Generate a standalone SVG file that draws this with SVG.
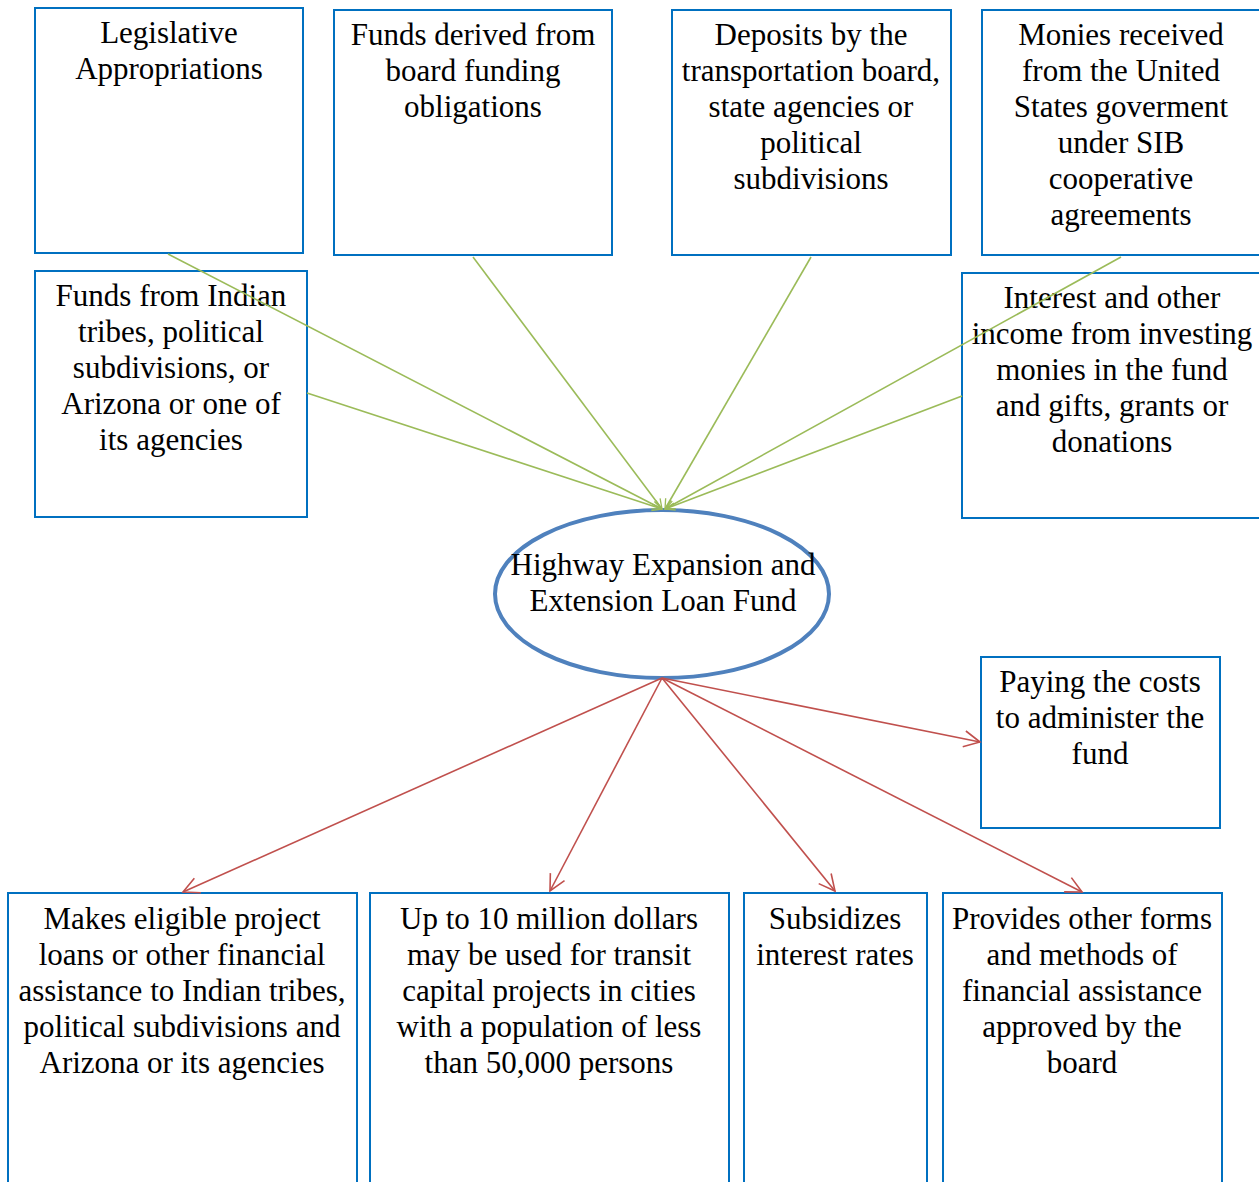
<svg xmlns="http://www.w3.org/2000/svg" width="1259" height="1182" viewBox="0 0 1259 1182">
<defs>
<style>
.box{fill:#fff;stroke:#0070C0;stroke-width:2}
.t{font-family:"Liberation Serif","Times New Roman",serif;font-size:31px;fill:#000;text-anchor:middle}
.g{stroke:#9BBB59;stroke-width:1.6;fill:none;marker-end:url(#ag)}
.r{stroke:#C0504D;stroke-width:1.6;fill:none;marker-end:url(#ar)}
</style>
<marker id="ag" viewBox="0 0 20 20" refX="18" refY="10" markerWidth="12" markerHeight="12" markerUnits="userSpaceOnUse" orient="auto"><path d="M2 2 L18 10 L2 18" fill="none" stroke="#9BBB59" stroke-width="2.2"/></marker>
<marker id="ar" viewBox="0 0 20 20" refX="18" refY="10" markerWidth="20" markerHeight="20" markerUnits="userSpaceOnUse" orient="auto"><path d="M2 2 L18 10 L2 18" fill="none" stroke="#C0504D" stroke-width="1.6"/></marker>
</defs>
<rect width="1259" height="1182" fill="#fff"/>
<g id="n1"><rect class="box" x="35" y="8" width="268" height="245"/><text class="t" x="169" y="43">Legislative</text><text class="t" x="169" y="79">Appropriations</text></g>
<g id="n2"><rect class="box" x="334" y="10" width="278" height="245"/><text class="t" x="473" y="45">Funds derived from</text><text class="t" x="473" y="81">board funding</text><text class="t" x="473" y="117">obligations</text></g>
<g id="n3"><rect class="box" x="672" y="10" width="279" height="245"/><text class="t" x="811" y="45">Deposits by the</text><text class="t" x="811" y="81">transportation board,</text><text class="t" x="811" y="117">state agencies or</text><text class="t" x="811" y="153">political</text><text class="t" x="811" y="189">subdivisions</text></g>
<g id="n4"><rect class="box" x="982" y="10" width="290" height="245"/><text class="t" x="1121" y="45">Monies received</text><text class="t" x="1121" y="81">from the United</text><text class="t" x="1121" y="117">States goverment</text><text class="t" x="1121" y="153">under SIB</text><text class="t" x="1121" y="189">cooperative</text><text class="t" x="1121" y="225">agreements</text></g>
<g id="n5"><rect class="box" x="35" y="271" width="272" height="246"/><text class="t" x="171" y="306">Funds from Indian</text><text class="t" x="171" y="342">tribes, political</text><text class="t" x="171" y="378">subdivisions, or</text><text class="t" x="171" y="414">Arizona or one of</text><text class="t" x="171" y="450">its agencies</text></g>
<g id="n6"><rect class="box" x="962" y="273" width="310" height="245"/><text class="t" x="1112" y="308">Interest and other</text><text class="t" x="1112" y="344">income from investing</text><text class="t" x="1112" y="380">monies in the fund</text><text class="t" x="1112" y="416">and gifts, grants or</text><text class="t" x="1112" y="452">donations</text></g>
<g id="fund"><ellipse cx="662" cy="594" rx="167" ry="84" fill="#fff" stroke="#4F81BD" stroke-width="4"/><text class="t" x="663" y="575">Highway Expansion and</text><text class="t" x="663" y="611">Extension Loan Fund</text></g>
<g id="n7"><rect class="box" x="981" y="657" width="239" height="171"/><text class="t" x="1100" y="692">Paying the costs</text><text class="t" x="1100" y="728">to administer the</text><text class="t" x="1100" y="764">fund</text></g>
<g id="n8"><rect class="box" x="8" y="893" width="349" height="300"/><text class="t" x="182" y="929">Makes eligible project</text><text class="t" x="182" y="965">loans or other financial</text><text class="t" x="182" y="1001">assistance to Indian tribes,</text><text class="t" x="182" y="1037">political subdivisions and</text><text class="t" x="182" y="1073">Arizona or its agencies</text></g>
<g id="n9"><rect class="box" x="370" y="893" width="359" height="300"/><text class="t" x="549" y="929">Up to 10 million dollars</text><text class="t" x="549" y="965">may be used for transit</text><text class="t" x="549" y="1001">capital projects in cities</text><text class="t" x="549" y="1037">with a population of less</text><text class="t" x="549" y="1073">than 50,000 persons</text></g>
<g id="n10"><rect class="box" x="744" y="893" width="183" height="300"/><text class="t" x="835" y="929">Subsidizes</text><text class="t" x="835" y="965">interest rates</text></g>
<g id="n11"><rect class="box" x="943" y="893" width="279" height="300"/><text class="t" x="1082" y="929">Provides other forms</text><text class="t" x="1082" y="965">and methods of</text><text class="t" x="1082" y="1001">financial assistance</text><text class="t" x="1082" y="1037">approved by the</text><text class="t" x="1082" y="1073">board</text></g>
<g id="connectors">
<line class="g" x1="168" y1="254" x2="662" y2="509"/>
<line class="g" x1="473" y1="257" x2="662" y2="509"/>
<line class="g" x1="811" y1="257" x2="665" y2="509"/>
<line class="g" x1="1121" y1="257" x2="665" y2="509"/>
<line class="g" x1="307" y1="393" x2="662" y2="509"/>
<line class="g" x1="962" y1="396" x2="665" y2="509"/>
<line class="r" x1="662" y1="678" x2="183" y2="892"/>
<line class="r" x1="662" y1="678" x2="550" y2="891"/>
<line class="r" x1="662" y1="678" x2="835" y2="891"/>
<line class="r" x1="662" y1="678" x2="1082" y2="892"/>
<line class="r" x1="662" y1="678" x2="980" y2="742"/>
</g>
</svg>
